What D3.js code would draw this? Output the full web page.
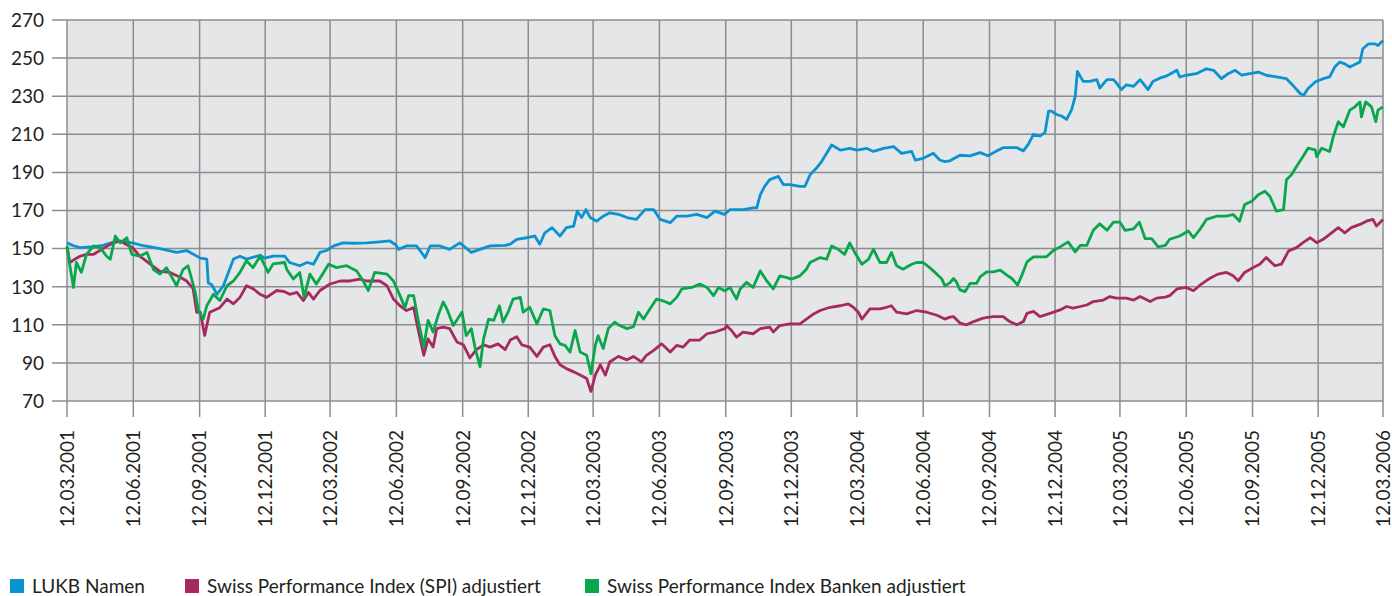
<!DOCTYPE html>
<html>
<head>
<meta charset="utf-8">
<script src="https://cdn.jsdelivr.net/npm/d3@7"></script>
<style>
  body { margin: 0; background: #fff; }
  text { font-family: Lato, "DejaVu Sans", sans-serif; fill: #231f20; }
</style>
</head>
<body>
<div id="chart"></div>
<script>
// x labels (quarter dates) and y ticks
const xTickLabels = ["12.03.2001","12.06.2001","12.09.2001","12.12.2001","12.03.2002","12.06.2002",
  "12.09.2002","12.12.2002","12.03.2003","12.06.2003","12.09.2003","12.12.2003","12.03.2004",
  "12.06.2004","12.09.2004","12.12.2004","12.03.2005","12.06.2005","12.09.2005","12.12.2005","12.03.2006"];
const yTicks = [70, 90, 110, 130, 150, 170, 190, 210, 230, 250, 270];

const seriesNames = ["LUKB Namen", "Swiss Performance Index (SPI) adjustiert", "Swiss Performance Index Banken adjustiert"];
const seriesColors = ["#0a93cf", "#a6295f", "#0aa64c"];

// values as [days since 12.03.2001, index value]
const lukb = [[0,153],[9,151.5],[18,150.5],[37,151],[50,151.7],[69,154],[91,153],[106,151.5],[129,150],
  [152,148],[166,149],[185,145],[194,144.5],[196,132],[201,131],[208,126],[217,130.5],[231,144.5],
  [240,146],[249,144.5],[268,146.5],[274,145],[286,146],[302,146],[309,142.7],[323,141],[333,142.7],
  [342,141.8],[351,148],[360,149],[370,151.4],[383,153],[397,152.8],[416,153],[434,153.5],[448,154],
  [456,152],[460,149.6],[471,151.4],[485,151.4],[497,145.3],[504,151.4],[517,151.4],[531,149.6],
  [545,153],[561,148],[573,149.6],[587,151.4],[608,151.7],[615,152.3],[624,154.9],[638,155.7],
  [649,156.6],[656,152.3],[663,158.3],[673,161],[684,156.6],[693,161],[703,161.8],[708,169.7],
  [714,166.3],[720,170.5],[726,166.3],[735,164.4],[744,167],[753,168.8],[765,168],[777,166.3],
  [790,165.3],[802,170.5],[814,170.5],[823,165.3],[837,163.6],[846,167],[860,167],[874,168],
  [888,166.3],[899,169.7],[912,168],[920,170.5],[938,170.5],[952,171.4],[957,171.4],[962,178.3],
  [968,182.7],[975,186.2],[987,187.9],[994,183.6],[1003,183.6],[1017,182.7],[1024,182.7],[1031,188.8],
  [1040,192.3],[1047,195.7],[1054,200],[1061,204.4],[1073,201.7],[1086,202.6],[1096,201.7],
  [1110,202.6],[1119,201],[1133,202.6],[1147,203.5],[1158,200],[1172,201],[1177,196.5],[1188,197.4],
  [1202,200],[1211,196.5],[1218,195.7],[1225,196.1],[1239,199],[1253,198.7],[1267,200.4],[1278,198.7],
  [1290,201.3],[1299,203],[1308,203],[1318,203],[1327,201.3],[1334,204.8],[1341,210],[1350,209.1],
  [1357,210.9],[1362,222.2],[1366,222.2],[1373,220.4],[1380,219.6],[1387,217.8],[1394,223],[1399,230],
  [1402,243],[1410,237.8],[1419,237.8],[1429,238.7],[1433,234.3],[1443,238.7],[1452,238.7],[1456,237],
  [1463,233.5],[1470,236],[1480,235.2],[1489,238.7],[1500,233.5],[1507,237.8],[1517,239.6],[1524,240.4],
  [1530,241.5],[1540,243.6],[1544,240.1],[1553,241],[1567,241.8],[1581,244.4],[1591,243.6],[1602,239.2],
  [1611,241.8],[1621,243.6],[1630,241],[1641,241.8],[1653,242.7],[1664,241],[1678,240.1],[1692,239.2],
  [1701,235.7],[1711,231.4],[1716,230.5],[1722,234],[1732,237.5],[1743,239.2],[1752,240.1],[1759,245.3],
  [1766,247.9],[1773,247],[1780,245.3],[1794,247.9],[1798,254.9],[1806,257.5],[1815,257.5],[1819,256.6],
  [1826,259.2]];

const spi = [[0,151],[4,142.7],[9,144],[18,146],[27,147],[37,147],[50,150],[64,153],[74,154],[83,152],
  [91,150.5],[101,146],[115,142],[129,138],[143,137.5],[157,135],[166,133],[175,129],[180,116.6],
  [185,116.6],[191,104.4],[198,116.6],[212,119],[222,123.5],[231,121],[240,124.4],[249,130.5],[258,129],
  [268,126],[277,124.4],[291,128],[302,127.4],[309,126],[319,127],[328,122.7],[335,127],[342,123.5],
  [351,128],[365,131.4],[379,133],[393,133],[406,134],[416,133],[434,133],[444,130.5],[453,123.5],
  [462,120],[471,117.5],[481,119],[487,108],[495,94],[501,102.6],[508,98.3],[513,108],[522,108.8],
  [531,108],[541,101],[550,99.5],[559,92.6],[568,97],[578,99.5],[587,98.3],[598,100],[608,97],
  [615,102],[624,103.7],[631,99.5],[642,98.3],[652,93.4],[661,98.3],[670,99.5],[677,93.4],[684,89],
  [693,87],[703,85.3],[712,83.6],[721,81.8],[727,75],[733,83.6],[740,89],[747,83.6],[753,90.5],
  [765,93.4],[777,91.6],[786,93.4],[797,90.5],[804,94],[814,96.6],[825,100],[837,95.7],[846,99.2],
  [855,98.3],[864,102],[878,102],[888,105.3],[899,106.2],[913,108],[915,109.6],[922,107],[929,103.5],
  [938,106.2],[952,105.3],[962,108],[975,108.8],[980,106.2],[989,109.6],[1003,110.5],[1017,110.5],
  [1026,113],[1036,115.7],[1045,117.5],[1059,119.2],[1073,120],[1084,121],[1091,119.2],[1098,116.6],
  [1103,113],[1114,118.4],[1128,118.4],[1137,119.2],[1144,120],[1151,116.6],[1165,115.7],[1179,117.5],
  [1193,116.6],[1207,115],[1218,113],[1225,114],[1230,114.3],[1239,110.9],[1248,110],[1258,111.7],
  [1271,113.5],[1285,114.3],[1299,114.3],[1308,111.7],[1318,110],[1327,111.7],[1332,116],[1341,117],
  [1350,114.3],[1364,116],[1378,117.8],[1387,119.6],[1396,118.7],[1406,119.6],[1415,120.4],[1424,122.2],
  [1438,123],[1447,124.8],[1456,124],[1470,124],[1480,123],[1489,124.8],[1503,122.2],[1512,124],
  [1524,124.5],[1530,125.3],[1540,128.8],[1553,129.6],[1563,127.9],[1574,131.4],[1584,134],[1597,136.6],
  [1609,137.5],[1618,135.7],[1625,133.1],[1634,137.5],[1646,140.1],[1655,141.8],[1664,145.3],[1676,141],
  [1685,141.8],[1695,148.8],[1706,150.5],[1715,153.1],[1725,155.7],[1734,153.1],[1743,154.9],
  [1752,157.5],[1764,161],[1773,158.3],[1782,161],[1794,162.7],[1803,164.4],[1812,165.3],[1817,161.8],
  [1826,165.3]];

const banken = [[0,151.4],[4,141],[9,129.6],[13,142.7],[20,137.5],[27,147],[37,151.4],[46,150.5],
  [55,146],[60,144.4],[67,156.6],[74,153],[83,155.7],[90,147],[101,146],[111,148],[120,139],[129,136.6],
  [138,140],[147,134],[152,130.5],[161,139],[168,141],[178,127],[182,118],[189,113],[194,120],[203,126],
  [212,122.7],[222,130.5],[231,133],[240,137.5],[249,143.6],[258,140],[268,146],[279,137.5],[286,142],
  [302,142.7],[305,139],[314,134],[323,137.5],[329,124.4],[337,136.6],[346,131.4],[356,137.5],
  [363,141.8],[374,140],[388,141],[402,138.3],[411,133],[418,128],[427,137.5],[444,136.6],[453,133],
  [462,125.3],[469,119],[474,125.3],[481,125.3],[487,113],[495,98.3],[501,112.3],[508,106.2],[515,115],
  [522,122],[527,118.4],[536,109.6],[548,116.6],[554,104.3],[561,108],[566,98.3],[573,88],[578,102.6],
  [585,113],[592,112.3],[600,120],[605,111.4],[612,116.6],[619,123.5],[629,124.4],[633,116.6],
  [642,119.2],[652,110.5],[661,118.4],[670,117.5],[677,104.3],[684,100],[691,99.2],[698,95.7],[705,107],
  [712,95.7],[721,94],[727,84.4],[733,99.2],[737,104.3],[744,97.5],[751,108],[760,111.4],[767,109.6],
  [777,108],[786,109],[793,116.6],[800,113],[809,118.4],[818,123.5],[827,122.6],[837,121],[846,124.4],
  [853,128.8],[867,129.6],[878,131.4],[888,129.6],[897,125.3],[904,129.6],[913,127.8],[920,129.6],
  [929,123.5],[934,128.8],[943,132.3],[952,129.6],[962,138.3],[971,133],[980,128.8],[989,135.7],
  [999,134.8],[1005,134],[1017,135.7],[1026,139.2],[1031,142.7],[1045,145.3],[1054,144.4],[1061,151.4],
  [1070,149.6],[1079,147],[1086,153],[1093,148],[1103,141.8],[1112,144.4],[1119,149.6],[1128,142.7],
  [1137,142.7],[1144,148],[1151,141],[1160,139.2],[1172,141.8],[1179,142.7],[1188,142.7],[1197,140],
  [1207,136.6],[1214,134],[1218,130.5],[1225,132],[1230,134.3],[1234,132.6],[1239,128.3],[1246,127.4],
  [1253,131.7],[1262,131.7],[1267,135.2],[1276,137.8],[1285,137.8],[1295,138.7],[1304,136.1],
  [1311,134.3],[1319,130.9],[1325,136.1],[1332,143],[1341,145.7],[1350,145.7],[1359,145.7],[1369,149.1],
  [1378,150.9],[1389,153.5],[1399,148.3],[1406,151.7],[1415,151.7],[1424,159.6],[1433,163],[1443,159.6],
  [1452,163.9],[1461,163.9],[1468,159.6],[1480,160.4],[1488,163.9],[1496,155.2],[1505,155.2],
  [1514,150.9],[1524,151.7],[1530,154.9],[1544,156.6],[1556,159.2],[1563,155.7],[1572,160.1],
  [1581,165.3],[1595,167],[1609,167],[1618,167.9],[1627,164.4],[1634,173.1],[1644,174.9],[1653,178.3],
  [1662,180.1],[1669,177.5],[1678,169.7],[1688,170.5],[1692,186.2],[1699,188.8],[1706,193.1],
  [1715,198.3],[1722,202.7],[1732,201.8],[1734,198.3],[1741,202.7],[1752,201],[1757,208.8],[1764,216.6],
  [1771,213.9],[1780,222.7],[1787,224.4],[1794,227],[1796,219.2],[1802,227],[1810,224.4],[1816,216.6],
  [1819,222.7],[1826,224.4]];

const W = 1392, H = 596;
const plot = {left: 67, right: 1383, top: 20, bottom: 401};

const parseDate = d3.timeParse("%d.%m.%Y");
const startDate = parseDate(xTickLabels[0]);
const endDate = parseDate(xTickLabels[xTickLabels.length - 1]);

const svg = d3.select("#chart").append("svg")
    .attr("width", W)
    .attr("height", H);

const x = d3.scaleTime().domain([startDate, endDate]).range([plot.left, plot.right]);
const y = d3.scaleLinear().domain([70, 270]).range([plot.bottom, plot.top]);

// plot background
svg.append("rect")
    .attr("x", plot.left)
    .attr("y", plot.top)
    .attr("width", plot.right - plot.left)
    .attr("height", plot.bottom - plot.top)
    .attr("fill", "#e5e6e8");

const gridColor = "#8d8d8f";

// horizontal grid + y ticks
svg.append("g")
    .selectAll("line")
    .data(yTicks)
    .join("line")
    .attr("x1", plot.left - 15)
    .attr("x2", plot.right)
    .attr("y1", d => y(d))
    .attr("y2", d => y(d))
    .attr("stroke", gridColor)
    .attr("stroke-width", 1.5);

svg.append("g")
    .selectAll("text")
    .data(yTicks)
    .join("text")
    .attr("x", 44)
    .attr("y", d => y(d))
    .attr("dy", "0.36em")
    .attr("text-anchor", "end")
    .style("font-size", "19px")
    .text(d => d);

// vertical grid + x ticks
const xTickDates = xTickLabels.map(parseDate);
svg.append("g")
    .selectAll("line")
    .data(xTickDates)
    .join("line")
    .attr("x1", d => x(d))
    .attr("x2", d => x(d))
    .attr("y1", plot.top)
    .attr("y2", plot.bottom + 16)
    .attr("stroke", gridColor)
    .attr("stroke-width", 1.5);

svg.append("g")
    .selectAll("text")
    .data(xTickLabels)
    .join("text")
    .attr("transform", d => `translate(${Math.min(x(parseDate(d)), W - 9)},430) rotate(-90)`)
    .attr("dy", "0.36em")
    .attr("text-anchor", "end")
    .style("font-size", "19px")
    .text(d => d);

// lines
const line = d3.line()
    .x(d => x(d3.timeDay.offset(startDate, d[0])))
    .y(d => y(d[1]));

[lukb, spi, banken].forEach((s, i) => {
    svg.append("path")
        .datum(s)
        .attr("fill", "none")
        .attr("stroke", seriesColors[i])
        .attr("stroke-width", 2.8)
        .attr("stroke-linejoin", "round")
        .attr("d", line);
});

// legend
const legendX = [10, 185, 585];
const legend = svg.append("g");
seriesNames.forEach((name, i) => {
    legend.append("rect")
        .attr("x", legendX[i])
        .attr("y", 579)
        .attr("width", 14)
        .attr("height", 14)
        .attr("fill", seriesColors[i]);
    legend.append("text")
        .attr("x", legendX[i] + 22)
        .attr("y", 586)
        .attr("dy", "0.36em")
        .style("font-size", "19px")
        .text(name);
});
</script>
</body>
</html>
